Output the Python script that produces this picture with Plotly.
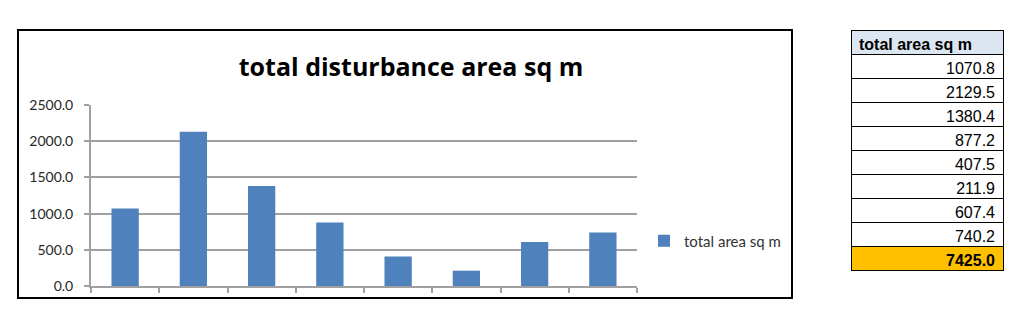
import plotly.graph_objects as go

categories = ["1", "2", "3", "4", "5", "6", "7", "8"]
area_values = [1070.8, 2129.5, 1380.4, 877.2, 407.5, 211.9, 607.4, 740.2]
total_value = 7425.0
series_name = "total area sq m"
title_text = "total disturbance area sq m"
y_ticks = [0, 500, 1000, 1500, 2000, 2500]

W, H = 1024, 321
def px(x): return x / W
def py(y): return (H - y) / H

fig = go.Figure()
fig.add_trace(go.Bar(
    x=categories, y=area_values, name=series_name,
    marker=dict(color="#4f81bd", line=dict(width=0)),
    xaxis="x", yaxis="y",
))

cell_vals = [f"{v:.1f}" for v in area_values]
tfont = "Liberation Sans Narrow, Liberation Sans, Arial"
ROW = 24
fig.add_trace(go.Table(
    domain=dict(x=[px(851), px(1003)], y=[py(30 + ROW * 9), py(30)]),
    columnwidth=[1],
    header=dict(values=[series_name], fill_color="#dce6f1",
                line=dict(color="black", width=1), align="left", height=ROW,
                font=dict(family=tfont, size=16, color="black", weight="bold")),
    cells=dict(values=[cell_vals], fill_color="white",
               line=dict(color="black", width=1), align="right", height=ROW,
               font=dict(family=tfont, size=16, color="black")),
))
fig.add_trace(go.Table(
    domain=dict(x=[px(851), px(1003)], y=[0.0, py(30 + ROW * 9)]),
    columnwidth=[1],
    header=dict(values=[f"{total_value:.1f}"], fill_color="#ffc000",
                line=dict(color="black", width=1), align="right", height=ROW,
                font=dict(family=tfont, size=16, color="black", weight="bold")),
    cells=dict(values=[[]], height=ROW),
))

grey = "#a0a0a0"
fig.update_layout(
    width=W, height=H,
    margin=dict(l=0, r=0, t=0, b=0, autoexpand=False),
    paper_bgcolor="white", plot_bgcolor="white",
    showlegend=True,
    legend=dict(x=px(644), y=py(241), xanchor="left", yanchor="middle",
                font=dict(family="Lato", size=15, color="#333333"),
                bgcolor="rgba(0,0,0,0)"),
    bargap=0.6,
    title=dict(text=title_text, x=px(411), xanchor="center",
               y=py(67), yanchor="middle",
               font=dict(family="Open Sans", size=25, color="black", weight="bold")),
    xaxis=dict(domain=[px(91), px(637)], type="category", showticklabels=False,
               tickson="boundaries", ticks="outside", ticklen=5, tickcolor=grey,
               tickwidth=2,
               showline=True, linecolor=grey, linewidth=2, showgrid=False,
               automargin=False),
    yaxis=dict(domain=[py(286), py(105)], range=[0, 2500], tickvals=y_ticks,
               tickformat=".1f", ticks="outside", ticklen=5, tickcolor=grey,
               tickwidth=2, ticklabelstandoff=8, automargin=False,
               showline=True, linecolor=grey, linewidth=2,
               showgrid=True, gridcolor=grey, gridwidth=2,
               tickfont=dict(family="Lato", size=14, color="#262626"), zeroline=False),
    shapes=[dict(type="rect", xref="paper", yref="paper",
                 x0=px(18), x1=px(792), y0=py(298), y1=py(30),
                 line=dict(color="black", width=2))],
)

fig.write_html("out.html")
